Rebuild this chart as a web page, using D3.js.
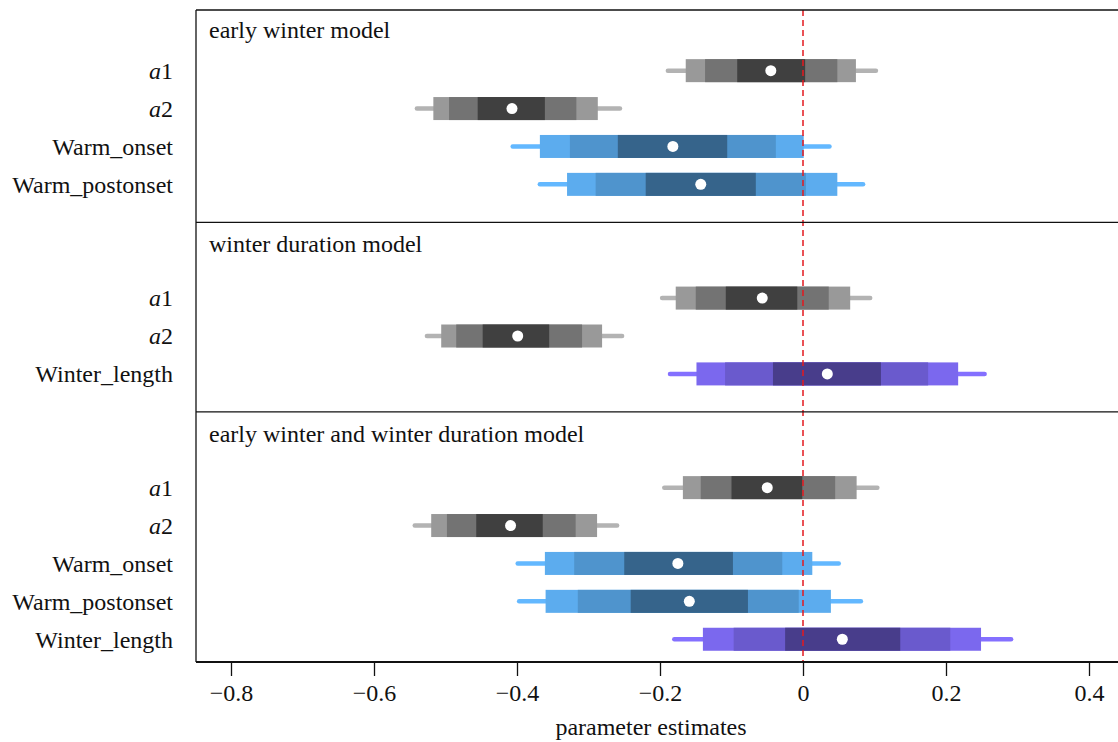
<!DOCTYPE html>
<html>
<head>
<meta charset="utf-8">
<script src="https://cdn.jsdelivr.net/npm/d3@7"></script>
<style>
  body { margin: 0; background: #fff; }
  svg text { font-family: "Liberation Serif", "Times New Roman", serif; fill: #111; }
</style>
</head>
<body>
<svg id="chart" width="1118" height="742"></svg>
<script>
// Panel titles (one per model)
const panelTitles = ['early winter model', 'winter duration model', 'early winter and winter duration model'];

// One entry per row, top to bottom
const rowPanel = [0, 0, 0, 0, 1, 1, 1, 2, 2, 2, 2, 2];
const rowParam = ['a1', 'a2', 'Warm_onset', 'Warm_postonset',
                  'a1', 'a2', 'Winter_length',
                  'a1', 'a2', 'Warm_onset', 'Warm_postonset', 'Winter_length'];

// posterior summaries
const median  = [-0.045, -0.407, -0.182, -0.143, -0.057, -0.399,  0.034, -0.050, -0.409, -0.175, -0.159,  0.055];
const lineLo  = [-0.189, -0.540, -0.406, -0.368, -0.197, -0.526, -0.186, -0.194, -0.543, -0.399, -0.397, -0.180];
const lineHi  = [ 0.102, -0.256,  0.037,  0.084,  0.094, -0.253,  0.254,  0.104, -0.260,  0.050,  0.081,  0.291];
const lightLo = [-0.164, -0.517, -0.368, -0.330, -0.178, -0.506, -0.149, -0.168, -0.520, -0.361, -0.360, -0.140];
const lightHi = [ 0.074, -0.287,  0.001,  0.048,  0.066, -0.281,  0.217,  0.075, -0.288,  0.013,  0.039,  0.249];
const midLo   = [-0.137, -0.495, -0.326, -0.290, -0.150, -0.485, -0.109, -0.143, -0.498, -0.320, -0.315, -0.097];
const midHi   = [ 0.048, -0.317, -0.038,  0.004,  0.036, -0.309,  0.175,  0.045, -0.318, -0.029, -0.006,  0.206];
const darkLo  = [-0.092, -0.455, -0.259, -0.220, -0.108, -0.448, -0.042, -0.100, -0.457, -0.250, -0.241, -0.025];
const darkHi  = [ 0.003, -0.361, -0.106, -0.066, -0.008, -0.355,  0.109, -0.001, -0.364, -0.098, -0.077,  0.136];

const xTicks = [-0.8, -0.6, -0.4, -0.2, 0, 0.2, 0.4];

// colour ramps per parameter family: [line, light, mid, dark]
const palette = {
  a:      ['#b3b3b3', '#999999', '#737373', '#404040'],
  Warm:   ['#63b8ff', '#5cacee', '#4f94cd', '#36648b'],
  Winter: ['#8470ff', '#7b68ee', '#6a5acd', '#483d8b']
};
function family(p) { return p.startsWith('a') ? 'a' : (p.startsWith('Warm') ? 'Warm' : 'Winter'); }

// --- layout: rows sit on integer slots, panels separated by a gap
const rowSlot = [];
const panelTop = [];
let slot = 2;
rowPanel.forEach((p, i) => {
  if (i > 0 && p !== rowPanel[i - 1]) slot += 2;        // skip for separator + title
  if (panelTop[p] === undefined) panelTop[p] = (p === 0) ? slot - 1.6 : slot - 2;
  rowSlot.push(slot);
  slot += 1;
});
const slotMin = panelTop[0], slotMax = rowSlot[rowSlot.length - 1] + 0.6;

const svg = d3.select('#chart');
const plotL = 196, plotR = 1118, plotT = 10, plotB = 662;

const x = d3.scaleLinear().domain([-0.8, 0.4]).range([231, 1089]);
const y = d3.scaleLinear().domain([slotMin, slotMax]).range([plotT, plotB]);

const rows = rowParam.map((p, i) => ({
  i, p, fam: family(p), y: y(rowSlot[i]),
  med: median[i],
  bands: [[lineLo[i], lineHi[i]], [lightLo[i], lightHi[i]], [midLo[i], midHi[i]], [darkLo[i], darkHi[i]]]
}));

const boxH = 23;

// outer interval line
svg.append('g').selectAll('line')
  .data(rows).join('line')
  .attr('x1', d => x(d.bands[0][0])).attr('x2', d => x(d.bands[0][1]))
  .attr('y1', d => d.y).attr('y2', d => d.y)
  .attr('stroke', d => palette[d.fam][0])
  .attr('stroke-width', 4.5)
  .attr('stroke-linecap', 'round');

// nested boxes, lightest first
[1, 2, 3].forEach(k => {
  svg.append('g').selectAll('rect')
    .data(rows).join('rect')
    .attr('x', d => x(d.bands[k][0]))
    .attr('width', d => x(d.bands[k][1]) - x(d.bands[k][0]))
    .attr('y', d => d.y - boxH / 2)
    .attr('height', boxH)
    .attr('fill', d => palette[d.fam][k]);
});

// zero reference
svg.append('line')
  .attr('x1', x(0)).attr('x2', x(0))
  .attr('y1', plotT).attr('y2', plotB)
  .attr('stroke', '#e3191f').attr('stroke-width', 1.5)
  .attr('stroke-dasharray', '6,4');

// medians
svg.append('g').selectAll('circle')
  .data(rows).join('circle')
  .attr('cx', d => x(d.med)).attr('cy', d => d.y)
  .attr('r', 5.5).attr('fill', '#fff');

// frame and panel separators
const frame = svg.append('g').attr('stroke', '#111').attr('fill', 'none');
frame.append('line').attr('x1', plotL).attr('x2', plotR).attr('y1', plotT).attr('y2', plotT).attr('stroke-width', 1.3);
frame.append('line').attr('x1', plotL).attr('x2', plotL).attr('y1', plotT).attr('y2', plotB).attr('stroke-width', 1.3);
panelTop.slice(1).forEach(s => {
  frame.append('line').attr('x1', plotL).attr('x2', plotR).attr('y1', y(s)).attr('y2', y(s)).attr('stroke-width', 1.3);
});
frame.append('line').attr('x1', plotL).attr('x2', plotR).attr('y1', plotB).attr('y2', plotB).attr('stroke-width', 2);

// panel titles
svg.append('g').selectAll('text')
  .data(panelTitles).join('text')
  .attr('x', 209)
  .attr('y', (d, i) => y(panelTop[i] + (i === 0 ? 0.74 : 0.79)))
  .attr('font-size', 24)
  .text(d => d);

// row labels, "a" italic
const lab = svg.append('g').selectAll('text')
  .data(rows).join('text')
  .attr('x', 173)
  .attr('y', d => d.y)
  .attr('dy', '0.35em')
  .attr('text-anchor', 'end')
  .attr('font-size', 24);
lab.each(function(d) {
  const t = d3.select(this);
  if (d.fam === 'a') {
    t.append('tspan').attr('font-style', 'italic').text('a');
    t.append('tspan').text(d.p.slice(1));
  } else {
    t.text(d.p);
  }
});

// x axis
const axis = svg.append('g')
  .attr('transform', `translate(0,${plotB})`)
  .call(d3.axisBottom(x).tickValues(xTicks).tickSize(14).tickPadding(8)
    .tickFormat(v => v === 0 ? '0' : (v < 0 ? '\u2212' + d3.format('.1f')(-v) : d3.format('.1f')(v))));
axis.select('.domain').remove();
axis.selectAll('.tick line').attr('stroke', '#111').attr('stroke-width', 1.3);
axis.selectAll('.tick text')
  .attr('font-family', '"Liberation Serif", serif')
  .attr('font-size', 24).attr('fill', '#111');

svg.append('text')
  .attr('x', 651).attr('y', 735)
  .attr('text-anchor', 'middle')
  .attr('font-size', 24)
  .text('parameter estimates');
</script>
</body>
</html>
